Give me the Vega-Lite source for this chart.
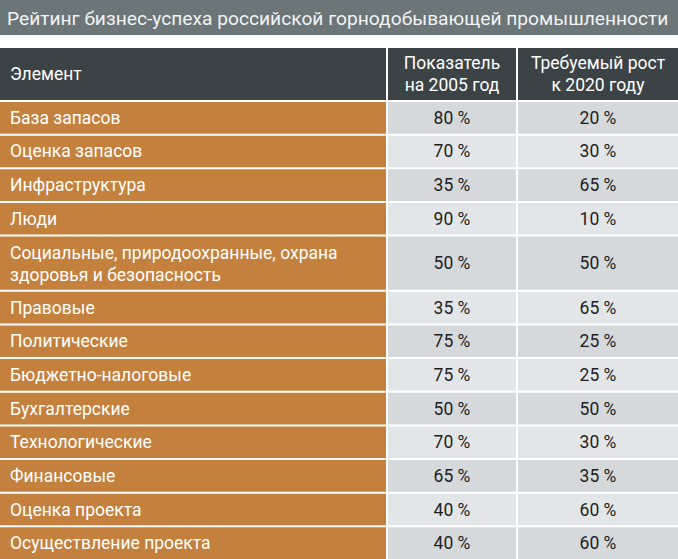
{
  "$schema": "https://vega.github.io/schema/vega-lite/v6.json",
  "padding": 0,
  "background": "white",
  "config": {"view": {"stroke": null}, "font": "Roboto"},
  "datasets": {
    "rows": [
      {"el": "База запасов", "v05": 80, "g20": 20},
      {"el": "Оценка запасов", "v05": 70, "g20": 30},
      {"el": "Инфраструктура", "v05": 35, "g20": 65},
      {"el": "Люди", "v05": 90, "g20": 10},
      {"el": ["Социальные, природоохранные, охрана", "здоровья и безопасность"], "v05": 50, "g20": 50},
      {"el": "Правовые", "v05": 35, "g20": 65},
      {"el": "Политические", "v05": 75, "g20": 25},
      {"el": "Бюджетно-налоговые", "v05": 75, "g20": 25},
      {"el": "Бухгалтерские", "v05": 50, "g20": 50},
      {"el": "Технологические", "v05": 70, "g20": 30},
      {"el": "Финансовые", "v05": 65, "g20": 35},
      {"el": "Оценка проекта", "v05": 40, "g20": 60},
      {"el": "Осуществление проекта", "v05": 40, "g20": 60}
    ]
  },
  "spacing": 13,
  "vconcat": [
    {
      "width": 678,
      "height": 35,
      "view": {"fill": "#6b7679", "stroke": null},
      "data": {"values": [{"t": "Рейтинг бизнес-успеха российской горнодобывающей промышленности"}]},
      "mark": {"type": "text", "align": "left", "baseline": "middle", "fontSize": 19.2, "color": "#f2f4f5", "dx": 7, "dy": 1},
      "encoding": {
        "x": {"datum": 0, "type": "quantitative", "scale": {"domain": [0, 1]}, "axis": null},
        "text": {"field": "t"}
      }
    },
    {
      "spacing": 0,
      "vconcat": [
        {
          "spacing": 2,
          "hconcat": [
            {
              "width": 386, "height": 52,
              "view": {"fill": "#3c4346", "stroke": null},
              "data": {"values": [{"h": "Элемент"}]},
              "mark": {"type": "text", "align": "left", "baseline": "middle", "fontSize": 17.5, "color": "#ffffff", "dx": 10, "dy": 1},
              "encoding": {
                "x": {"datum": 0, "type": "quantitative", "scale": {"domain": [0, 1]}, "axis": null},
                "text": {"field": "h"}
              }
            },
            {
              "width": 128, "height": 52,
              "view": {"fill": "#3c4346", "stroke": null},
              "data": {"values": [{"h": ["Показатель", "на 2005 год"]}]},
              "mark": {"type": "text", "align": "center", "baseline": "middle", "fontSize": 17.5, "lineHeight": 22, "color": "#ffffff", "dy": -10},
              "encoding": {"text": {"field": "h"}}
            },
            {
              "width": 160, "height": 52,
              "view": {"fill": "#3c4346", "stroke": null},
              "data": {"values": [{"h": ["Требуемый рост", "к 2020 году"]}]},
              "mark": {"type": "text", "align": "center", "baseline": "middle", "fontSize": 17.5, "lineHeight": 22, "color": "#ffffff", "dy": -10},
              "encoding": {"text": {"field": "h"}}
            }
          ]
        },
        {
          "spacing": 2,
          "data": {"name": "rows"},
          "transform": [
            {"calculate": "isArray(datum.el) ? length(datum.el) : 1", "as": "nl"},
            {"calculate": "1 + 0.64 * (datum.nl - 1)", "as": "w"},
            {"window": [{"op": "sum", "field": "w", "as": "end"}, {"op": "row_number", "as": "rn"}], "frame": [null, 0]},
            {"calculate": "datum.end - datum.w", "as": "start"},
            {"calculate": "(datum.start + datum.end) / 2", "as": "mid"},
            {"calculate": "datum.v05 + ' %'", "as": "v05t"},
            {"calculate": "datum.g20 + ' %'", "as": "g20t"}
          ],
          "hconcat": [
            {
              "width": 386, "height": 459,
              "layer": [
                {
                  "mark": {"type": "rect", "color": "#c4813e", "yOffset": 2},
                  "encoding": {
                    "y": {"field": "start", "type": "quantitative", "scale": {"reverse": true, "nice": false, "zero": true}, "axis": null},
                    "y2": {"field": "end"}
                  }
                },
                {
                  "transform": [{"filter": "datum.nl === 1"}],
                  "mark": {"type": "text", "align": "left", "baseline": "middle", "fontSize": 17.5, "color": "#ffffff", "dx": 10, "dy": 2},
                  "encoding": {
                    "x": {"datum": 0, "type": "quantitative", "scale": {"domain": [0, 1]}, "axis": null},
                    "y": {"field": "mid", "type": "quantitative"},
                    "text": {"field": "el"}
                  }
                },
                {
                  "transform": [{"filter": "datum.nl > 1"}],
                  "mark": {"type": "text", "align": "left", "baseline": "middle", "fontSize": 17.5, "lineHeight": 22, "color": "#ffffff", "dx": 10, "dy": -8},
                  "encoding": {
                    "x": {"datum": 0, "type": "quantitative", "scale": {"domain": [0, 1]}, "axis": null},
                    "y": {"field": "mid", "type": "quantitative"},
                    "text": {"field": "el"}
                  }
                }
              ]
            },
            {
              "width": 128, "height": 459,
              "layer": [
                {
                  "mark": {"type": "rect", "yOffset": 2},
                  "encoding": {
                    "y": {"field": "start", "type": "quantitative", "scale": {"reverse": true, "nice": false, "zero": true}, "axis": null},
                    "y2": {"field": "end"},
                    "color": {"condition": {"test": "datum.rn % 2 === 1", "value": "#d5d9dc"}, "value": "#e3e6e8"}
                  }
                },
                {
                  "mark": {"type": "text", "align": "center", "baseline": "middle", "fontSize": 17.5, "color": "#1e1e1e", "dy": 2},
                  "encoding": {
                    "y": {"field": "mid", "type": "quantitative"},
                    "text": {"field": "v05t"}
                  }
                }
              ]
            },
            {
              "width": 160, "height": 459,
              "layer": [
                {
                  "mark": {"type": "rect", "yOffset": 2},
                  "encoding": {
                    "y": {"field": "start", "type": "quantitative", "scale": {"reverse": true, "nice": false, "zero": true}, "axis": null},
                    "y2": {"field": "end"},
                    "color": {"condition": {"test": "datum.rn % 2 === 1", "value": "#d5d9dc"}, "value": "#e3e6e8"}
                  }
                },
                {
                  "mark": {"type": "text", "align": "center", "baseline": "middle", "fontSize": 17.5, "color": "#1e1e1e", "dy": 2},
                  "encoding": {
                    "y": {"field": "mid", "type": "quantitative"},
                    "text": {"field": "g20t"}
                  }
                }
              ]
            }
          ]
        }
      ]
    }
  ]
}
